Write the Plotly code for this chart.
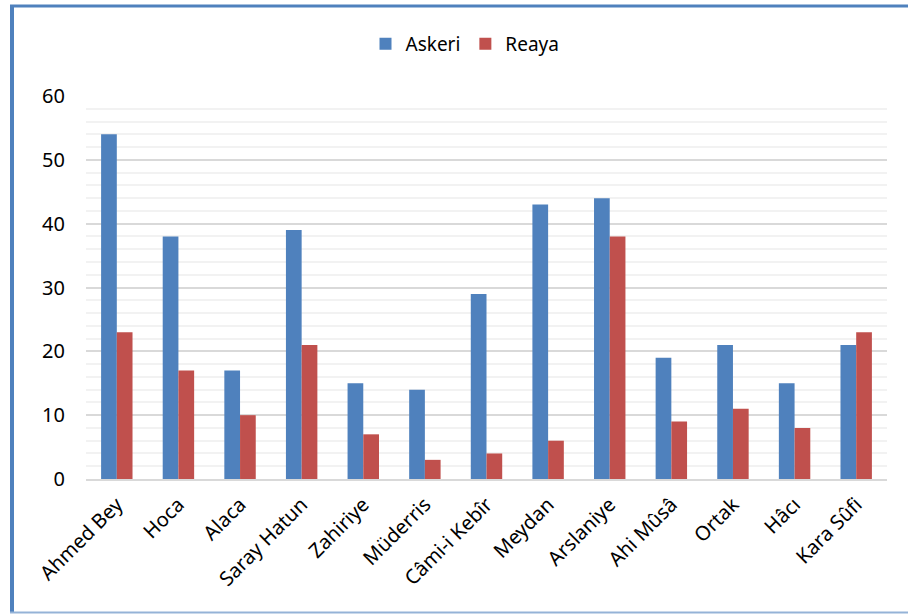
import plotly.graph_objects as go

categories = ["Ahmed Bey", "Hoca", "Alaca", "Saray Hatun", "Zahiriye", "Müderris",
              "Câmi-i Kebîr", "Meydan", "Arslaniye", "Ahi Mûsâ", "Ortak", "Hâcı", "Kara Sûfi"]
askeri = [54, 38, 17, 39, 15, 14, 29, 43, 44, 19, 21, 15, 21]
reaya = [23, 17, 10, 21, 7, 3, 4, 6, 38, 9, 11, 8, 23]

W, H = 908, 614
L, T = 86, 96
pw, ph = 801, 383
R = W - L - pw
B = H - T - ph

def px(x):
    return (x - L) / pw

def py(y):
    return (T + ph - y) / ph

font = "Noto Sans, Open Sans, sans-serif"

fig = go.Figure()
fig.add_trace(go.Bar(name="Askeri", x=categories, y=askeri, marker=dict(color="#4F81BD", line=dict(width=0))))
fig.add_trace(go.Bar(name="Reaya", x=categories, y=reaya, marker=dict(color="#C0504D", line=dict(width=0))))

fig.update_layout(
    width=W, height=H,
    margin=dict(l=L, r=R, t=T, b=B, autoexpand=False),
    paper_bgcolor="white", plot_bgcolor="white",
    barmode="group", bargap=0.49, bargroupgap=0,
    font=dict(family=font, size=20, color="black"),
    legend=dict(orientation="h", x=px(465), xanchor="center", y=py(44), yanchor="middle",
                font=dict(size=19), itemwidth=30, traceorder="normal"),
    showlegend=True,
)
fig.update_yaxes(range=[0, 60], dtick=10, showgrid=True, gridcolor="#D9D9D9", gridwidth=1.5,
                 minor=dict(dtick=2, showgrid=True, gridcolor="#F2F2F2", gridwidth=1.5),
                 zeroline=False, showline=False, ticks="", ticklen=0,
                 tickfont=dict(size=20), ticklabelstandoff=20, automargin=False)
fig.update_xaxes(showline=True, linecolor="#D9D9D9", linewidth=2, tickangle=-45,
                 ticks="", tickfont=dict(size=20), ticklabelstandoff=4, automargin=False)

# chart border (blue frame)
fig.add_shape(type="line", xref="paper", yref="paper", x0=px(12), x1=px(12), y0=py(5), y1=py(613),
              line=dict(color="#4F81BD", width=4))
fig.add_shape(type="line", xref="paper", yref="paper", x0=px(10), x1=px(912), y0=py(6), y1=py(6),
              line=dict(color="#4F81BD", width=3))
fig.add_shape(type="line", xref="paper", yref="paper", x0=px(10), x1=px(912), y0=py(612.5), y1=py(612.5),
              line=dict(color="#95B3D7", width=2))

fig.write_html("out.html", config={"displayModeBar": False},
               post_script="document.body.style.margin='0';")
